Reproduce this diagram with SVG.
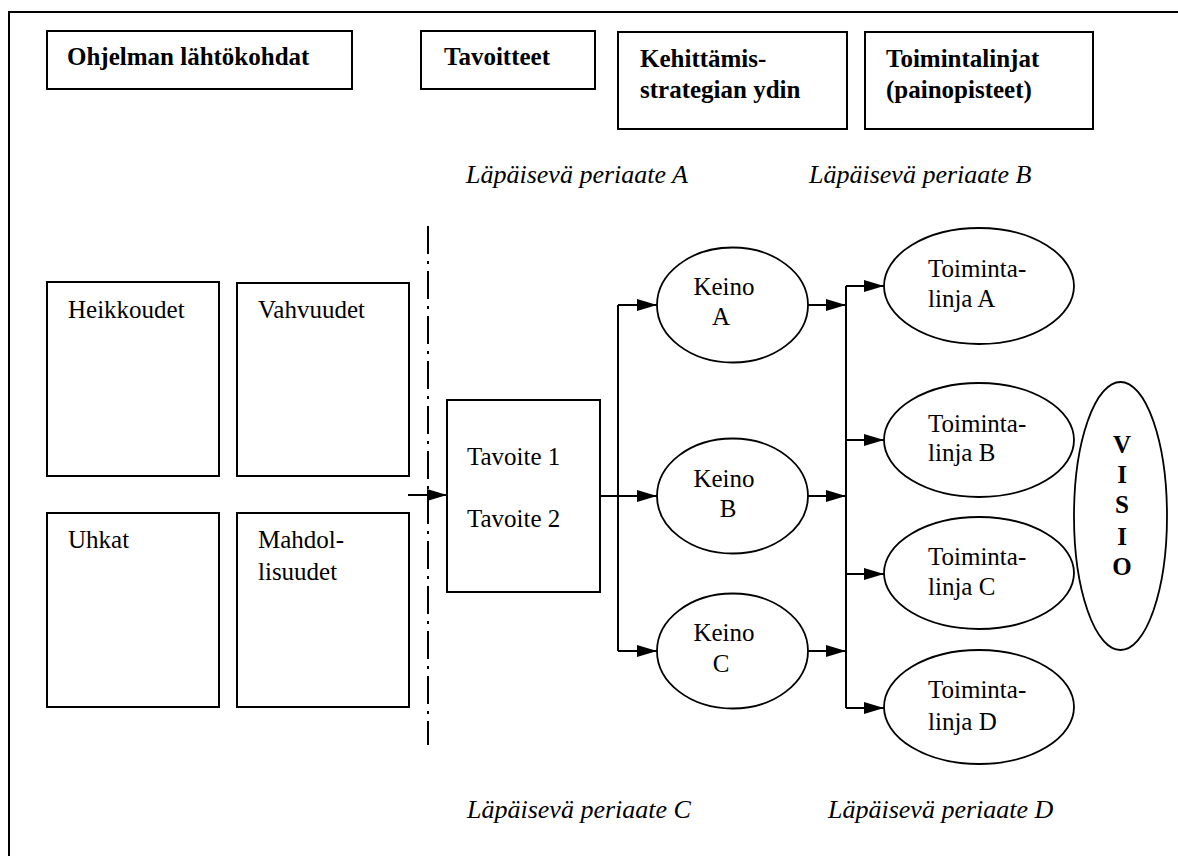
<svg xmlns="http://www.w3.org/2000/svg" width="1178" height="856" viewBox="0 0 1178 856">
  <defs>
    <marker id="arrow" markerUnits="userSpaceOnUse" markerWidth="20" markerHeight="12" refX="20" refY="6" orient="auto">
      <path d="M0,0 L20,6 L0,12 z" fill="#000"/>
    </marker>
    <style>
      .box { fill: #fff; stroke: #000; stroke-width: 2; }
      .oval { fill: #fff; stroke: #000; stroke-width: 1.8; }
      .wire { fill: none; stroke: #000; stroke-width: 2; }
      text { font-family: "Liberation Serif", "DejaVu Serif", "Noto Serif", "Times New Roman", serif; font-size: 25px; fill: #000; }
      .b { font-weight: bold; }
      .i { font-style: italic; font-size: 26px; }
      .c { text-anchor: middle; }
    </style>
  </defs>
  <rect width="1178" height="856" fill="#fff"/>

  <!-- outer frame: top and left edges only -->
  <g id="frame">
    <path class="wire" d="M9,856 V12 H1178"/>
  </g>

  <!-- column headings -->
  <g id="head-lahtokohdat" font-family="Liberation Serif, serif">
    <rect class="box" x="47" y="31" width="305" height="58"/>
    <text class="b" x="67" y="65">Ohjelman lähtökohdat</text>
  </g>
  <g id="head-tavoitteet">
    <rect class="box" x="421" y="31" width="174" height="58"/>
    <text class="b" x="444" y="65">Tavoitteet</text>
  </g>
  <g id="head-ydin">
    <rect class="box" x="618" y="32" width="229" height="97"/>
    <text class="b" x="640" y="67">Kehittämis-</text>
    <text class="b" x="640" y="98">strategian ydin</text>
  </g>
  <g id="head-toimintalinjat">
    <rect class="box" x="865" y="32" width="228" height="97"/>
    <text class="b" x="886" y="67">Toimintalinjat</text>
    <text class="b" x="886" y="98">(painopisteet)</text>
  </g>

  <!-- cross-cutting principles -->
  <g id="periaatteet">
    <text class="i" x="466" y="183">Läpäisevä periaate A</text>
    <text class="i" x="809" y="183">Läpäisevä periaate B</text>
    <text class="i" x="467" y="818">Läpäisevä periaate C</text>
    <text class="i" x="828" y="818">Läpäisevä periaate D</text>
  </g>

  <!-- SWOT boxes -->
  <g id="heikkoudet">
    <rect class="box" x="47" y="282" width="172" height="194"/>
    <text x="68" y="318">Heikkoudet</text>
  </g>
  <g id="vahvuudet">
    <rect class="box" x="237" y="283" width="172" height="193"/>
    <text x="258" y="318">Vahvuudet</text>
  </g>
  <g id="uhkat">
    <rect class="box" x="47" y="513" width="172" height="194"/>
    <text x="68" y="548">Uhkat</text>
  </g>
  <g id="mahdollisuudet">
    <rect class="box" x="237" y="513" width="172" height="194"/>
    <text x="258" y="548">Mahdol-</text>
    <text x="258" y="580">lisuudet</text>
  </g>

  <!-- dash-dot divider -->
  <g id="divider">
    <line x1="428" y1="226" x2="428" y2="745" stroke="#000" stroke-width="2" stroke-dasharray="28 7 3 7"/>
  </g>

  <!-- goals -->
  <g id="tavoite">
    <rect class="box" x="447" y="400" width="153" height="192"/>
    <text x="467" y="465">Tavoite 1</text>
    <text x="467" y="527">Tavoite 2</text>
  </g>

  <!-- means -->
  <g id="keino-a">
    <ellipse class="oval" cx="732.5" cy="305" rx="75.5" ry="57.5"/>
    <text class="c" x="724" y="295">Keino</text>
    <text class="c" x="721" y="325">A</text>
  </g>
  <g id="keino-b">
    <ellipse class="oval" cx="732.5" cy="496" rx="75.5" ry="57.5"/>
    <text class="c" x="724" y="487">Keino</text>
    <text class="c" x="728" y="517">B</text>
  </g>
  <g id="keino-c">
    <ellipse class="oval" cx="732.5" cy="651" rx="75.5" ry="57.5"/>
    <text class="c" x="724" y="641">Keino</text>
    <text class="c" x="721" y="672">C</text>
  </g>

  <!-- lines of action -->
  <g id="toimintalinja-a">
    <ellipse class="oval" cx="979" cy="286" rx="95" ry="58"/>
    <text x="928" y="277">Toiminta-</text>
    <text x="928" y="307">linja A</text>
  </g>
  <g id="toimintalinja-b">
    <ellipse class="oval" cx="979" cy="440" rx="95" ry="57"/>
    <text x="928" y="432">Toiminta-</text>
    <text x="928" y="461">linja B</text>
  </g>
  <g id="toimintalinja-c">
    <ellipse class="oval" cx="979" cy="573" rx="95" ry="56"/>
    <text x="928" y="565">Toiminta-</text>
    <text x="928" y="595">linja C</text>
  </g>
  <g id="toimintalinja-d">
    <ellipse class="oval" cx="979" cy="707" rx="95" ry="57"/>
    <text x="928" y="698">Toiminta-</text>
    <text x="928" y="730">linja D</text>
  </g>

  <!-- vision -->
  <g id="visio">
    <ellipse class="oval" cx="1120.5" cy="516" rx="46.5" ry="134"/>
    <text class="b c" x="1122" y="453">V</text>
    <text class="b c" x="1122" y="483">I</text>
    <text class="b c" x="1122" y="513">S</text>
    <text class="b c" x="1122" y="545">I</text>
    <text class="b c" x="1122" y="575">O</text>
  </g>

  <!-- connectors -->
  <g id="connectors">
    <path class="wire" d="M408,495 H447" marker-end="url(#arrow)"/>
    <path class="wire" d="M600,496 H618"/>
    <path class="wire" d="M618,305 V651"/>
    <path class="wire" d="M618,305 H657" marker-end="url(#arrow)"/>
    <path class="wire" d="M618,496 H657" marker-end="url(#arrow)"/>
    <path class="wire" d="M618,651 H657" marker-end="url(#arrow)"/>
    <path class="wire" d="M808,305 H846" marker-end="url(#arrow)"/>
    <path class="wire" d="M808,496 H846" marker-end="url(#arrow)"/>
    <path class="wire" d="M808,651 H846" marker-end="url(#arrow)"/>
    <path class="wire" d="M846,286 V708"/>
    <path class="wire" d="M846,286 H884" marker-end="url(#arrow)"/>
    <path class="wire" d="M846,440 H884" marker-end="url(#arrow)"/>
    <path class="wire" d="M846,574 H884" marker-end="url(#arrow)"/>
    <path class="wire" d="M846,708 H884" marker-end="url(#arrow)"/>
  </g>
</svg>
